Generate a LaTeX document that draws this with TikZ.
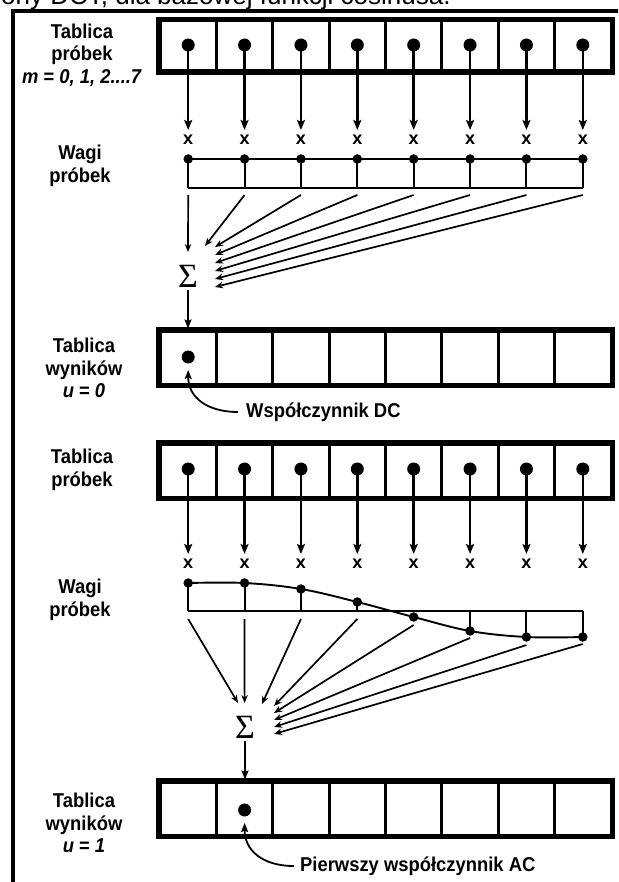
\documentclass[tikz,border=0pt]{standalone}
\usepackage{fontspec}
\setmainfont{Liberation Sans}
\newfontfamily\lblfont[FakeStretch=0.92]{Liberation Sans}
\newfontfamily\sigfont{Liberation Serif}
\usetikzlibrary{arrows.meta}
\begin{document}
\begin{tikzpicture}[x=1pt,y=-1pt,
  lbl/.style={font={\lblfont\bfseries\fontsize{20}{22.5}\selectfont},align=center,inner sep=0pt},
  cellbox/.style={draw,line width=3pt,minimum width=56.375pt,inner sep=0pt},
  outerbox/.style={draw,line width=4.5pt},
  smpdot/.style={circle,fill,inner sep=0pt,minimum size=13pt},
  wdot/.style={circle,fill,inner sep=0pt,minimum size=9.5pt},
  xmk/.style={font={\bfseries\fontsize{18}{18}\selectfont},inner sep=0pt},
  bigarrow/.style={line width=2.4pt,-{Stealth[length=10pt,width=8pt,inset=2pt]}},
  wline/.style={line width=1.9pt},
  fanarrow/.style={line width=1.7pt,-{Stealth[length=8pt,width=6.5pt]}},
  medarrow/.style={line width=1.8pt,-{Stealth[length=9pt,width=7pt,inset=1.5pt]}},
  sigmanode/.style={font={\sigfont\fontsize{34}{34}\selectfont},inner sep=0pt},
]
\useasboundingbox (0,0) rectangle (618,882);
\clip (0,0) rectangle (618,882);
\fill[white] (0,0) rectangle (618,882);

% header (cut off at the top edge, as in the reference)
\node[font=\fontsize{26}{26}\selectfont,anchor=base west,inner sep=0pt] (hdr) at (1,5) {ony DCT, dla bazowej funkcji cosinusa.};
% frame
\draw[line width=3.4pt] (13,885) -- (13,11) -- (620,11);

% ================= TOP: u = 0 =================
\node[lbl] (l1) at (82,55) {Tablica\\próbek\\\textit{m} = \textit{0, 1, 2....7}};
\node[lbl] (l2) at (80,166) {Wagi\\próbek};
\node[lbl] (l3) at (84,368) {Tablica\\wyników\\\textit{u} = \textit{0}};

\foreach \i [evaluate=\i as \cx using {160+56.375*(\i+0.5)}] in {0,...,7} {
  \node[cellbox,minimum height=50pt] (a\i) at (\cx,46) {};
  \node[cellbox,minimum height=53pt] (r\i) at (\cx,357.5) {};
  \node[smpdot] (s\i) at (\cx,45) {};
  \node[xmk] (x\i) at (\cx,140) {x};
  \coordinate (ta\i) at (\cx,130);
  \draw[bigarrow] (s\i.center) -- (ta\i);
  \node[wdot] (w\i) at (\cx,159) {};
  \coordinate (wb\i) at (\cx,188);
  \draw[wline] (w\i.center) -- (wb\i);
  \coordinate (f\i) at (\cx,195);
}
\draw[outerbox] (a0.north west) rectangle (a7.south east);
\draw[outerbox] (r0.north west) rectangle (r7.south east);
\draw[wline] (w0.center) -- (w7.center);
\draw[wline] (wb0) -- (wb7);

\node[sigmanode] (sg1) at (188,276) {Σ};
\coordinate (h0) at (188,252);
\coordinate (h1) at (205,246);
\foreach \i in {2,...,7} { \coordinate (h\i) at (215,{247+8*(\i-2)}); }
\foreach \i in {0,...,7} { \draw[fanarrow] (f\i) -- (h\i); }
\coordinate (rin0) at (188,328.5);
\draw[medarrow] ([yshift=-3pt]sg1.south) -- (rin0);

\node[smpdot] (rd0) at (188.2,357) {};
\node[lbl,anchor=west] (dc) at (246,412) {Współczynnik DC};
\coordinate (dctip) at (188.2,370);
\draw[medarrow] ([xshift=-8pt]dc.west) .. controls (208,412) and (188.2,398) .. (dctip);

% ================= BOTTOM: u = 1 =================
\node[lbl] (l4) at (82,470) {Tablica\\próbek};
\node[lbl] (l5) at (80,600) {Wagi\\próbek};
\node[lbl] (l6) at (84,823) {Tablica\\wyników\\\textit{u} = \textit{1}};

\foreach \i/\wy/\fy [evaluate=\i as \cx using {160+56.375*(\i+0.5)}] in
   {0/583/619,1/583/619,2/589/619,3/602/619,4/617/625,5/631/638,6/637/645,7/637/644} {
  \node[cellbox,minimum height=53pt] (b\i) at (\cx,470.5) {};
  \node[cellbox,minimum height=53pt] (q\i) at (\cx,808.5) {};
  \node[smpdot] (p\i) at (\cx,469) {};
  \node[xmk] (y\i) at (\cx,564) {x};
  \coordinate (tb\i) at (\cx,554);
  \draw[bigarrow] (p\i.center) -- (tb\i);
  \node[wdot] (v\i) at (\cx,\wy) {};
  \coordinate (vb\i) at (\cx,611);
  \coordinate (e\i) at (\cx,\fy);
}
\draw[outerbox] (b0.north west) rectangle (b7.south east);
\draw[outerbox] (q0.north west) rectangle (q7.south east);
\draw[wline] plot[smooth,tension=0.6] coordinates {(v0.center) (v1.center) (v2.center) (v3.center) (v4.center) (v5.center) (v6.center) (v7.center)};
\foreach \i in {0,1,2,3,5,6,7} { \draw[wline] (v\i.center) -- (vb\i); }
\draw[wline] (vb0) -- (vb7);

\node[sigmanode] (sg2) at (245,727) {Σ};
\coordinate (g0) at (238,703);
\coordinate (g1) at (244.6,703);
\coordinate (g2) at (262,704);
\foreach \i in {3,...,7} { \coordinate (g\i) at (274,{706+7*(\i-3)}); }
\foreach \i in {0,...,7} { \draw[fanarrow] (e\i) -- (g\i); }
\coordinate (qin1) at (245,779.5);
\draw[medarrow] ([yshift=-3pt]sg2.south) -- (qin1);

\node[smpdot] (qd1) at (244.6,810) {};
\node[lbl,anchor=west] (ac) at (300,866) {Pierwszy współczynnik AC};
\coordinate (actip) at (244.6,823);
\draw[medarrow] ([xshift=-6pt]ac.west) .. controls (262,866) and (244.6,850) .. (actip);
\end{tikzpicture}
\end{document}
